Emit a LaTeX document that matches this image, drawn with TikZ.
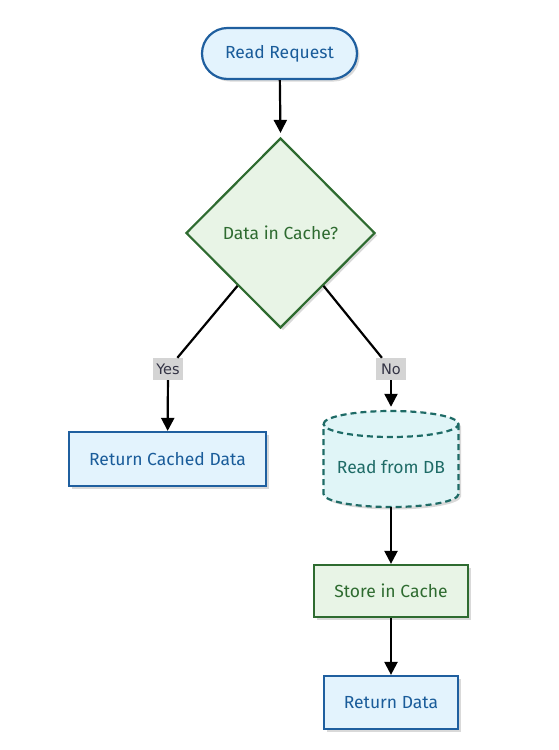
\documentclass[tikz,border=0pt]{standalone}
\usepackage{fontspec}
\setmainfont{Fira Sans}
\newfontfamily\lblfont{DejaVu Sans}
\usetikzlibrary{shapes.geometric,arrows.meta,shadows,calc}
\definecolor{bblue}{HTML}{1F5F9F}
\definecolor{fblue}{HTML}{E3F3FD}
\definecolor{tblue}{HTML}{1A5C9A}
\definecolor{bgreen}{HTML}{2E6B30}
\definecolor{fgreen}{HTML}{E8F4E6}
\definecolor{bteal}{HTML}{1E6B66}
\definecolor{fteal}{HTML}{E0F5F7}
\definecolor{lblgray}{HTML}{D4D4D4}
\definecolor{lbltext}{HTML}{333344}
\tikzset{
  shad/.style={drop shadow={shadow xshift=2.5pt,shadow yshift=-2.5pt,opacity=0.15,fill=black}},
  mainfont/.style={font=\fontsize{17.5}{20}\selectfont},
  bluebox/.style={draw=bblue,fill=fblue,text=tblue,line width=2.2pt,shad,mainfont,inner sep=0pt},
  greenbox/.style={draw=bgreen,fill=fgreen,text=bgreen,line width=2.2pt,shad,mainfont,inner sep=0pt},
  edge/.style={line width=2.2pt,black},
  arr/.style={edge,-{Triangle[width=13pt,length=13pt]}},
  lbl/.style={fill=lblgray,text=lbltext,font=\lblfont\fontsize{14.5}{16}\selectfont,inner sep=0pt,minimum width=30pt,minimum height=22pt}
}
\begin{document}
\begin{tikzpicture}[x=1pt,y=-1pt]
\useasboundingbox (0,0) rectangle (559,750);
\node[bluebox,rounded corners=25.5pt,minimum width=155pt,minimum height=51pt] (start) at (279.5,53.5) {Read Request};
\node[greenbox,diamond,minimum width=189pt,minimum height=190pt] (dec) at (280.5,233) {Data in Cache?};
\node[bluebox,minimum width=197pt,minimum height=54pt] (ret) at (167.5,459) {Return Cached Data};
% cylinder
\fill[black,opacity=0.15,shift={(2.5,2.5)}] (323.5,424) arc[start angle=180,end angle=0,x radius=67.5,y radius=-13] -- (458.5,494) arc[start angle=0,end angle=-180,x radius=67.5,y radius=-13] -- cycle;
\fill[fteal] (323.5,424) arc[start angle=180,end angle=0,x radius=67.5,y radius=-13] -- (458.5,494) arc[start angle=0,end angle=-180,x radius=67.5,y radius=-13] -- cycle;
\draw[bteal,line width=2.2pt,dash pattern=on 6pt off 4pt] (323.5,424) arc[start angle=180,end angle=-180,x radius=67.5,y radius=-13]
  (458.5,424) -- (458.5,494) arc[start angle=0,end angle=-180,x radius=67.5,y radius=-13] -- (323.5,424);
\node[minimum width=135pt,minimum height=96pt,inner sep=0pt] (db) at (391,459) {};
\node[text=bteal,mainfont,inner sep=0pt] (dbtext) at (391,467) {Read from DB};
\node[greenbox,minimum width=154pt,minimum height=52pt] (store) at (391,591) {Store in Cache};
\node[bluebox,minimum width=134pt,minimum height=53pt] (retd) at (391,702.5) {Return Data};
\node[lbl] (yes) at (168,369) {Yes};
\node[lbl] (no) at (391,369) {No};
\draw[arr] (start) -- ($(dec.north)+(0,-4)$);
\draw[edge] ($(dec.west)!0.55!(dec.south)$) -- (yes);
\draw[arr] (yes) -- (ret);
\draw[edge] ($(dec.east)!0.55!(dec.south)$) -- (no);
\draw[arr] (no) -- ($(db.north)+(0,-4)$);
\draw[arr] (db) -- (store);
\draw[arr] (store) -- (retd);
\end{tikzpicture}
\end{document}
